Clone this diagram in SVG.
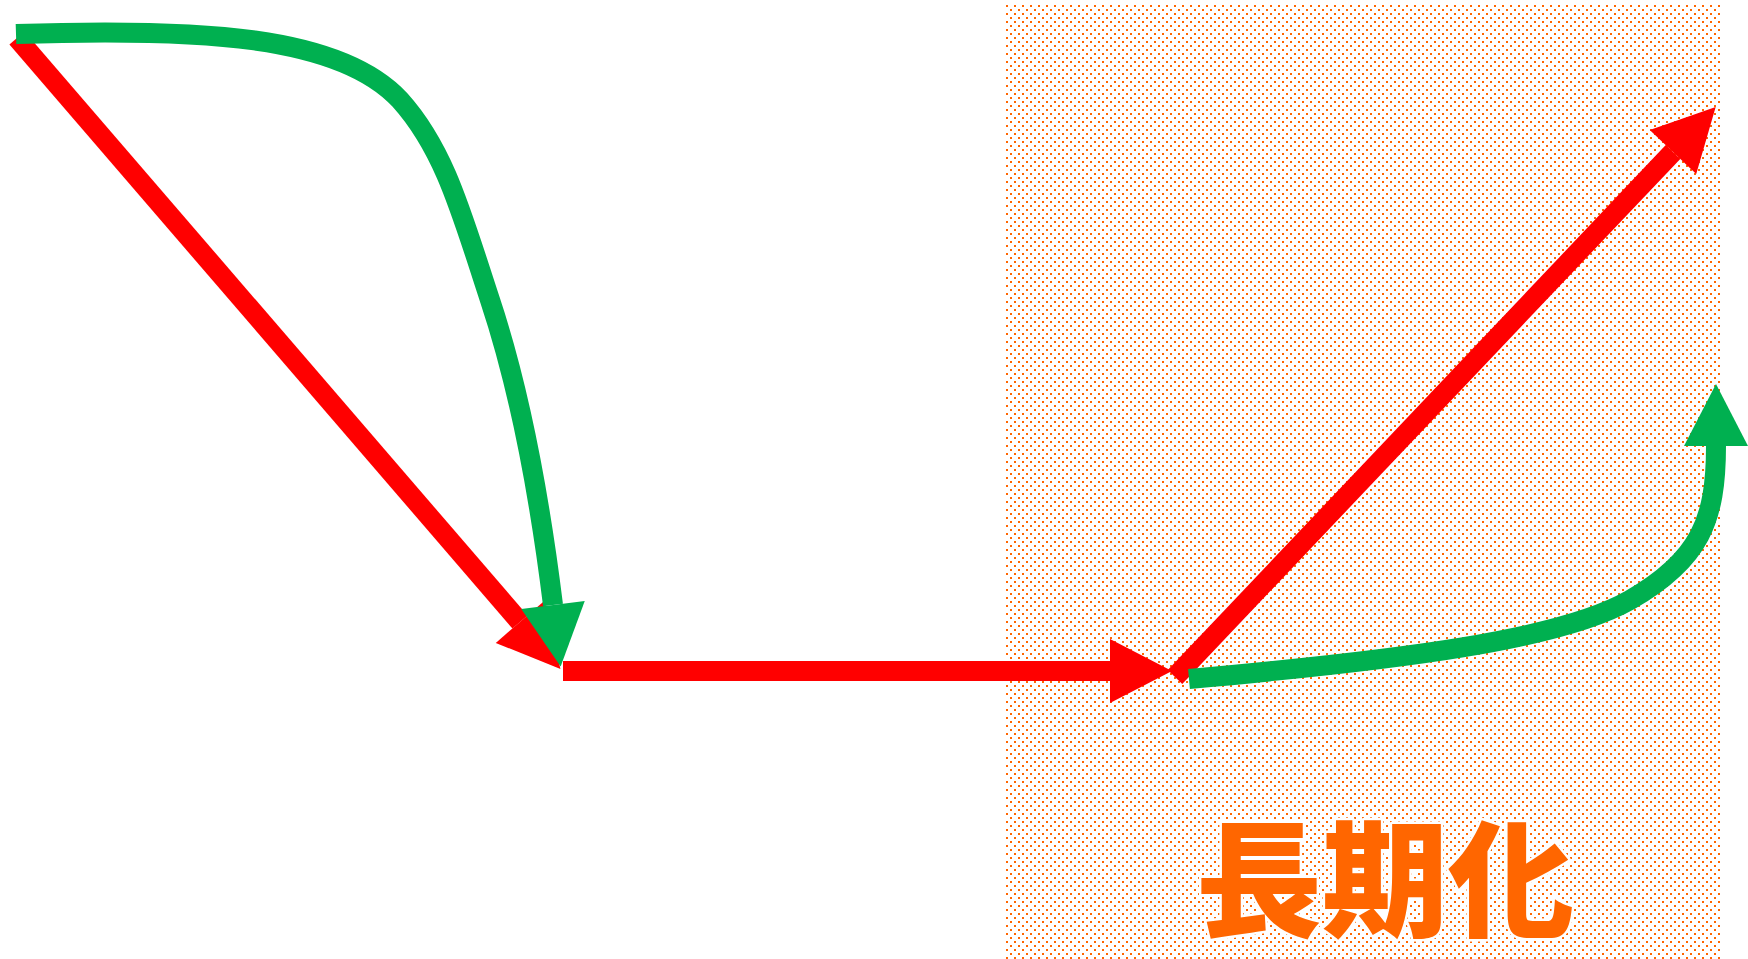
<svg xmlns="http://www.w3.org/2000/svg" width="1748" height="959" viewBox="0 0 1748 959">
  <style>
    .red { fill: none; stroke: #FF0000; stroke-width: 20; stroke-linecap: butt; marker-end: url(#headRed); }
    .green { fill: none; stroke: #00B050; stroke-width: 20; stroke-linecap: butt; marker-end: url(#headGreen); }
    .label { font-family: "Noto Sans CJK JP", "Noto Sans CJK SC", sans-serif; font-weight: 900; font-size: 126px; fill: #FF6600; stroke: #FFFFFF; stroke-width: 5; paint-order: stroke; stroke-linejoin: round; }
  </style>
  <defs>
    <pattern id="dots" patternUnits="userSpaceOnUse" x="1006" y="5" width="8" height="8">
      <rect x="0" y="0" width="2" height="2" fill="#FF6600"/>
      <rect x="4" y="4" width="2" height="2" fill="#FF6600"/>
    </pattern>
    <marker id="headRed" markerUnits="userSpaceOnUse" markerWidth="62" markerHeight="64" viewBox="0 0 62 64" refX="0" refY="32" orient="auto" overflow="visible">
      <path d="M0,0 L62,32 L0,64 Z" fill="#FF0000"/>
    </marker>
    <marker id="headGreen" markerUnits="userSpaceOnUse" markerWidth="62" markerHeight="64" viewBox="0 0 62 64" refX="0" refY="32" orient="auto" overflow="visible">
      <path d="M0,0 L62,32 L0,64 Z" fill="#00B050"/>
    </marker>
  </defs>
  <rect width="1748" height="959" fill="#FFFFFF"/>
  <g id="region-longterm">
    <rect x="1006" y="5" width="716" height="954" fill="url(#dots)"/>
    <text class="label" x="1385" y="927" text-anchor="middle">長期化</text>
  </g>
  <g id="connectors">
    <path class="red" d="M17,38 L520,622"/>
    <path class="red" d="M563,671 L1110,671"/>
    <path class="red" d="M1175,677 L1673,152"/>
    <path class="green" d="M16,34 C200,28 340,35 400,100 C445,150 462,215 490,300 C520,390 540,500 553,605"/>
    <path class="green" d="M1189,679 C1400,660 1560,640 1630,600 C1700,560 1716,520 1716,446"/>
  </g>
</svg>
